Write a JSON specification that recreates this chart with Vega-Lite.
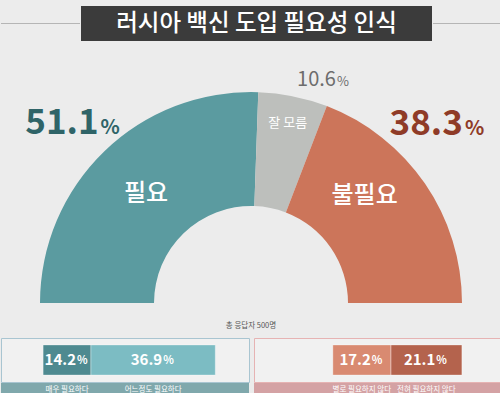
{
  "$schema": "https://vega.github.io/schema/vega-lite/v6.json",
  "padding": {"top": 6, "bottom": 0, "left": 0, "right": 0},
  "background": "#ececec",
  "config": {"view": {"stroke": null}, "font": "Noto Sans CJK KR"},
  "datasets": {
    "main": [
      {"cat": "필요", "value": 51.1, "o": 1},
      {"cat": "잘 모름", "value": 10.6, "o": 2},
      {"cat": "불필요", "value": 38.3, "o": 3}
    ],
    "pos": [
      {"cat": "매우 필요하다", "value": 14.2, "o": 1, "g": "a"},
      {"cat": "어느정도 필요하다", "value": 36.9, "o": 2, "g": "a"}
    ],
    "neg": [
      {"cat": "전혀 필요하지 않다", "value": 21.1, "o": 1, "g": "a"},
      {"cat": "별로 필요하지 않다", "value": 17.2, "o": 2, "g": "a"}
    ]
  },
  "resolve": {"scale": {"color": "independent"}},
  "spacing": 0,
  "vconcat": [
    {
      "spacing": 0,
      "hconcat": [
        {
          "width": 79, "height": 35,
          "data": {"values": [{}]},
          "mark": {"type": "rule", "color": "#b5b5b5", "strokeWidth": 1},
          "encoding": {"y": {"datum": 0, "type": "quantitative", "scale": {"domain": [-1, 1]}, "axis": null}}
        },
        {
          "width": 351, "height": 35,
          "view": {"fill": "#3b3b3b", "stroke": null},
          "data": {"values": [{"t": "러시아 백신 도입 필요성 인식"}]},
          "mark": {"type": "text", "font": "Noto Sans CJK KR", "fontSize": 23.5, "fontWeight": 500, "color": "#ffffff", "baseline": "middle", "align": "center"},
          "encoding": {"text": {"field": "t", "type": "nominal"}}
        },
        {
          "width": 70, "height": 35,
          "data": {"values": [{}]},
          "mark": {"type": "rule", "color": "#b5b5b5", "strokeWidth": 1},
          "encoding": {"y": {"datum": 0, "type": "quantitative", "scale": {"domain": [-1, 1]}, "axis": null}}
        }
      ]
    },
    {
      "width": 500, "height": 262,
      "data": {"name": "main"},
      "encoding": {
        "x": {"datum": 0, "type": "quantitative", "scale": {"domain": [-1, 1], "nice": false}, "axis": null},
        "y": {"datum": 0, "type": "quantitative", "scale": {"domain": [0, 1], "nice": false}, "axis": null},
        "theta": {"field": "value", "type": "quantitative", "stack": true, "scale": {"range": [-1.5708, 1.5708]}},
        "order": {"field": "o", "type": "quantitative"},
        "detail": {"field": "cat", "type": "nominal"}
      },
      "layer": [
        {
          "mark": {"type": "arc", "radius": 211, "radius2": 97, "strokeWidth": 0},
          "encoding": {
            "color": {"field": "cat", "type": "nominal", "scale": {"domain": ["필요", "잘 모름", "불필요", "매우 필요하다", "어느정도 필요하다", "별로 필요하지 않다", "전혀 필요하지 않다"], "range": ["#5b9ba0", "#bdbfbc", "#cc755a", "#4e8a90", "#7cbcc3", "#d98a71", "#b4634d"]}, "legend": null}
          }
        },
        {
          "mark": {"type": "text", "radius": 151, "fontWeight": 500, "color": "#ffffff", "align": "center", "baseline": "middle"},
          "encoding": {
            "text": {"condition": {"test": "datum.cat === '필요'", "field": "cat", "type": "nominal"}, "value": ""},
            "size": {"condition": {"test": "datum.cat === '필요'", "value": 24}, "value": 0}
          }
        },
        {
          "mark": {"type": "text", "radius": 184, "fontWeight": 400, "color": "#ffffff", "align": "center", "baseline": "middle"},
          "encoding": {
            "text": {"condition": {"test": "datum.cat === '잘 모름'", "field": "cat", "type": "nominal"}, "value": ""},
            "size": {"condition": {"test": "datum.cat === '잘 모름'", "value": 13}, "value": 0}
          }
        },
        {
          "mark": {"type": "text", "radius": 156, "dx": -15, "dy": -19, "fontWeight": 500, "color": "#ffffff", "align": "center", "baseline": "middle"},
          "encoding": {
            "text": {"condition": {"test": "datum.cat === '불필요'", "field": "cat", "type": "nominal"}, "value": ""},
            "size": {"condition": {"test": "datum.cat === '불필요'", "value": 24}, "value": 0}
          }
        },
        {
          "mark": {"type": "text", "radius": 228, "dx": 6, "dy": -5, "fontWeight": "bold", "color": "#2f6468", "align": "right", "baseline": "alphabetic"},
          "encoding": {
            "text": {"condition": {"test": "datum.cat === '필요'", "field": "value", "type": "quantitative", "format": ".1f"}, "value": ""},
            "size": {"condition": {"test": "datum.cat === '필요'", "value": 35}, "value": 0}
          }
        },
        {
          "mark": {"type": "text", "radius": 228, "dx": 8, "dy": -5, "fontWeight": "bold", "color": "#2f6468", "align": "left", "baseline": "alphabetic"},
          "encoding": {
            "text": {"condition": {"test": "datum.cat === '필요'", "value": "%"}, "value": ""},
            "size": {"condition": {"test": "datum.cat === '필요'", "value": 20}, "value": 0}
          }
        },
        {
          "mark": {"type": "text", "radius": 200, "dx": 47, "dy": -55, "fontWeight": "bold", "color": "#8f3b27", "align": "right", "baseline": "alphabetic"},
          "encoding": {
            "text": {"condition": {"test": "datum.cat === '불필요'", "field": "value", "type": "quantitative", "format": ".1f"}, "value": ""},
            "size": {"condition": {"test": "datum.cat === '불필요'", "value": 35}, "value": 0}
          }
        },
        {
          "mark": {"type": "text", "radius": 200, "dx": 49, "dy": -55, "fontWeight": "bold", "color": "#8f3b27", "align": "left", "baseline": "alphabetic"},
          "encoding": {
            "text": {"condition": {"test": "datum.cat === '불필요'", "value": "%"}, "value": ""},
            "size": {"condition": {"test": "datum.cat === '불필요'", "value": 20}, "value": 0}
          }
        },
        {
          "mark": {"type": "text", "radius": 230, "dx": 39, "dy": 8.5, "fontWeight": 400, "color": "#6d6d6d", "align": "right", "baseline": "alphabetic"},
          "encoding": {
            "text": {"condition": {"test": "datum.cat === '잘 모름'", "field": "value", "type": "quantitative", "format": ".1f"}, "value": ""},
            "size": {"condition": {"test": "datum.cat === '잘 모름'", "value": 20}, "value": 0}
          }
        },
        {
          "mark": {"type": "text", "radius": 230, "dx": 40, "dy": 8.5, "fontWeight": 400, "color": "#6d6d6d", "align": "left", "baseline": "alphabetic"},
          "encoding": {
            "text": {"condition": {"test": "datum.cat === '잘 모름'", "value": "%"}, "value": ""},
            "size": {"condition": {"test": "datum.cat === '잘 모름'", "value": 13}, "value": 0}
          }
        }
      ]
    },
    {
      "width": 500, "height": 33,
      "data": {"values": [{"t": "총 응답자 500명"}]},
      "mark": {"type": "text", "fontSize": 7.5, "color": "#555555", "baseline": "middle", "align": "center", "dy": 5.5},
      "encoding": {"text": {"field": "t", "type": "nominal"}}
    },
    {
      "spacing": 3,
      "hconcat": [
        {
          "spacing": 0,
          "vconcat": [
            {
              "width": 248, "height": 44,
              "view": {"stroke": "#a9c5d1", "strokeWidth": 1, "fill": "#f1f1f1"},
              "data": {"name": "pos"},
              "encoding": {
                "y": {"field": "g", "type": "nominal", "axis": null, "scale": {"paddingInner": 0, "paddingOuter": 0.23}},
                "order": {"field": "o", "type": "quantitative"},
                "detail": {"field": "cat", "type": "nominal"}
              },
              "layer": [
                {
                  "mark": {"type": "bar", "stroke": "#ffffff", "strokeOpacity": 0.35, "strokeWidth": 1},
                  "encoding": {
                    "x": {"field": "value", "type": "quantitative", "stack": "zero", "scale": {"domain": [-12.5, 61.1], "nice": false}, "axis": null},
                    "color": {"field": "cat", "type": "nominal", "scale": {"domain": ["필요", "잘 모름", "불필요", "매우 필요하다", "어느정도 필요하다", "별로 필요하지 않다", "전혀 필요하지 않다"], "range": ["#5b9ba0", "#bdbfbc", "#cc755a", "#4e8a90", "#7cbcc3", "#d98a71", "#b4634d"]}, "legend": null}
                  }
                },
                {
                  "mark": {"type": "text", "align": "right", "dx": 9, "fontSize": 15, "fontWeight": "bold", "color": "#ffffff", "baseline": "middle"},
                  "encoding": {
                    "x": {"field": "value", "type": "quantitative", "stack": "zero", "bandPosition": 0.5},
                    "text": {"field": "value", "type": "quantitative", "format": ".1f"}
                  }
                },
                {
                  "mark": {"type": "text", "align": "left", "dx": 10, "dy": 1, "fontSize": 11, "fontWeight": "bold", "color": "#ffffff", "baseline": "middle"},
                  "encoding": {
                    "x": {"field": "value", "type": "quantitative", "stack": "zero", "bandPosition": 0.5},
                    "text": {"value": "%"}
                  }
                }
              ]
            },
            {
              "width": 248, "height": 13,
              "view": {"fill": "#80a8ac", "stroke": null},
              "data": {"name": "pos"},
              "mark": {"type": "text", "fontSize": 7.5, "color": "#ffffff", "baseline": "middle", "align": "center"},
              "encoding": {
                "x": {"field": "value", "type": "quantitative", "stack": "zero", "bandPosition": 0.5, "scale": {"domain": [-12.5, 61.1], "nice": false}, "axis": null},
                "order": {"field": "o", "type": "quantitative"},
                "detail": {"field": "cat", "type": "nominal"},
                "text": {"field": "cat", "type": "nominal"}
              }
            }
          ]
        },
        {
          "spacing": 0,
          "vconcat": [
            {
              "width": 249, "height": 44,
              "view": {"stroke": "#e6b3b3", "strokeWidth": 1, "fill": "#f1f1f1"},
              "data": {"name": "neg"},
              "encoding": {
                "y": {"field": "g", "type": "nominal", "axis": null, "scale": {"paddingInner": 0, "paddingOuter": 0.23}},
                "order": {"field": "o", "type": "quantitative"},
                "detail": {"field": "cat", "type": "nominal"}
              },
              "layer": [
                {
                  "mark": {"type": "bar", "stroke": "#ffffff", "strokeOpacity": 0.35, "strokeWidth": 1},
                  "encoding": {
                    "x": {"field": "value", "type": "quantitative", "stack": "zero", "scale": {"domain": [-12.2, 61.7], "nice": false, "reverse": true}, "axis": null},
                    "color": {"field": "cat", "type": "nominal", "scale": {"domain": ["필요", "잘 모름", "불필요", "매우 필요하다", "어느정도 필요하다", "별로 필요하지 않다", "전혀 필요하지 않다"], "range": ["#5b9ba0", "#bdbfbc", "#cc755a", "#4e8a90", "#7cbcc3", "#d98a71", "#b4634d"]}, "legend": null}
                  }
                },
                {
                  "mark": {"type": "text", "align": "right", "dx": 9, "fontSize": 15, "fontWeight": "bold", "color": "#ffffff", "baseline": "middle"},
                  "encoding": {
                    "x": {"field": "value", "type": "quantitative", "stack": "zero", "bandPosition": 0.5},
                    "text": {"field": "value", "type": "quantitative", "format": ".1f"}
                  }
                },
                {
                  "mark": {"type": "text", "align": "left", "dx": 10, "dy": 1, "fontSize": 11, "fontWeight": "bold", "color": "#ffffff", "baseline": "middle"},
                  "encoding": {
                    "x": {"field": "value", "type": "quantitative", "stack": "zero", "bandPosition": 0.5},
                    "text": {"value": "%"}
                  }
                }
              ]
            },
            {
              "width": 249, "height": 13,
              "view": {"fill": "#d4a2a4", "stroke": null},
              "data": {"name": "neg"},
              "mark": {"type": "text", "fontSize": 7.5, "color": "#ffffff", "baseline": "middle", "align": "center"},
              "encoding": {
                "x": {"field": "value", "type": "quantitative", "stack": "zero", "bandPosition": 0.5, "scale": {"domain": [-12.2, 61.7], "nice": false, "reverse": true}, "axis": null},
                "order": {"field": "o", "type": "quantitative"},
                "detail": {"field": "cat", "type": "nominal"},
                "text": {"field": "cat", "type": "nominal"}
              }
            }
          ]
        }
      ]
    }
  ]
}
